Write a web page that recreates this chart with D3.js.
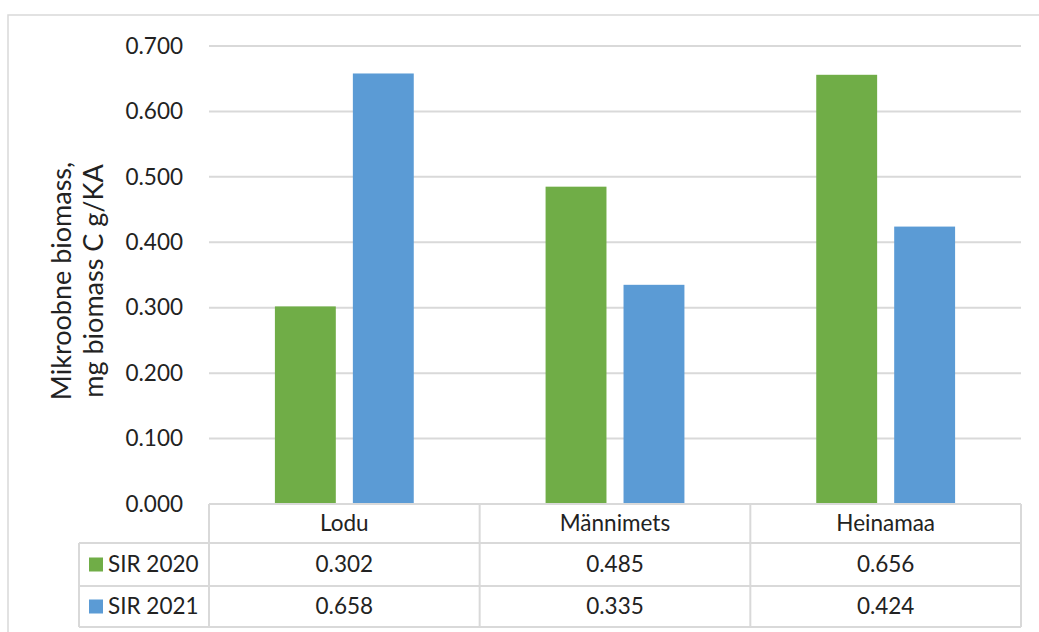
<!DOCTYPE html>
<html><head><meta charset="utf-8">
<script src="https://cdn.jsdelivr.net/npm/d3@7"></script>
<style>body{margin:0;background:#fff}svg{display:block}</style>
</head><body>
<script>
const categories = ["Lodu", "Männimets", "Heinamaa"];
const seriesNames = ["SIR 2020", "SIR 2021"];
const sir2020 = [0.302, 0.485, 0.656];
const sir2021 = [0.658, 0.335, 0.424];
const yTicks = [0, 0.1, 0.2, 0.3, 0.4, 0.5, 0.6, 0.7];
const colors = ["#70AD47", "#5B9BD5"];
const yTitle = ["Mikroobne biomass,", "mg biomass C g/KA"];

const W = 1039, H = 632;
const font = "Lato, 'Open Sans', sans-serif";
const textColor = "#222";
const lineColor = "#D9D9D9";
const fs = 22.5;

const svg = d3.select("body").append("svg").attr("width", W).attr("height", H);
// outer chart border
svg.append("rect").attr("x", 8).attr("y", 15).attr("width", 1100).attr("height", 700)
  .attr("fill", "#fff").attr("stroke", lineColor).attr("stroke-width", 1.5);

const plotL = 209, plotR = 1021, plotT = 46, plotB = 504;
const x = d3.scaleBand().domain(categories).range([plotL, plotR]);
const y = d3.scaleLinear().domain([0, 0.7]).range([plotB, plotT]);

// gridlines
svg.append("g").selectAll("line").data(yTicks.slice(1)).join("line")
  .attr("x1", plotL).attr("x2", plotR)
  .attr("y1", d => y(d)).attr("y2", d => y(d))
  .attr("stroke", lineColor).attr("stroke-width", 2);

// y axis labels
const yAxis = d3.axisLeft(y).tickValues(yTicks).tickFormat(d3.format(".3f")).tickSize(0).tickPadding(0);
const gy = svg.append("g").attr("transform", `translate(${plotL - 26},0)`).call(yAxis);
gy.select(".domain").remove();
gy.selectAll("text").attr("font-family", font).attr("font-size", fs).attr("fill", textColor);

// bars
const bw = x.bandwidth() * 0.225, gap = bw * 0.28;
const series = [sir2020, sir2021];
series.forEach((vals, si) => {
  svg.append("g").selectAll("rect").data(vals).join("rect")
    .attr("x", (d, i) => x(categories[i]) + x.bandwidth() / 2 + (si === 0 ? -gap / 2 - bw : gap / 2))
    .attr("width", bw)
    .attr("y", d => y(d))
    .attr("height", d => y(0) - y(d))
    .attr("fill", colors[si]);
});

// y title
const tg = svg.append("g").attr("transform", "translate(0,281) rotate(-90)");
tg.selectAll("text").data(yTitle).join("text")
  .attr("x", 0).attr("y", (d, i) => 71 + i * 32)
  .attr("text-anchor", "middle").attr("font-family", font).attr("font-size", 27)
  .attr("fill", textColor).text(d => d);

// data table
const rowY = [504, 543, 586, 627];
const legL = 79;
const tbl = svg.append("g");
tbl.append("line").attr("x1", plotL).attr("x2", plotR).attr("y1", rowY[0]).attr("y2", rowY[0]);
rowY.slice(1).forEach(v => tbl.append("line").attr("x1", legL).attr("x2", plotR).attr("y1", v).attr("y2", v));
const vx = categories.map(c => x(c)).concat([plotR]);
vx.forEach(v => tbl.append("line").attr("x1", v).attr("x2", v).attr("y1", rowY[0]).attr("y2", rowY[3]));
tbl.append("line").attr("x1", legL).attr("x2", legL).attr("y1", rowY[1]).attr("y2", rowY[3]);
tbl.selectAll("line").attr("stroke", lineColor).attr("stroke-width", 2);

// header
svg.append("g").selectAll("text").data(categories).join("text")
  .attr("x", d => x(d) + x.bandwidth() / 2).attr("y", (rowY[0] + rowY[1]) / 2)
  .attr("dy", "0.35em").attr("text-anchor", "middle")
  .attr("font-family", font).attr("font-size", fs).attr("fill", textColor).text(d => d);

series.forEach((vals, si) => {
  const cy = (rowY[si + 1] + rowY[si + 2]) / 2;
  svg.append("g").selectAll("text").data(vals).join("text")
    .attr("x", (d, i) => x(categories[i]) + x.bandwidth() / 2).attr("y", cy)
    .attr("dy", "0.35em").attr("text-anchor", "middle")
    .attr("font-family", font).attr("font-size", fs).attr("fill", textColor)
    .text(d => d3.format(".3f")(d));
  svg.append("rect").attr("x", 89).attr("y", cy - 7).attr("width", 14).attr("height", 14).attr("fill", colors[si]);
  svg.append("text").attr("x", 108).attr("y", cy).attr("dy", "0.35em")
    .attr("font-family", font).attr("font-size", fs).attr("fill", textColor).text(seriesNames[si]);
});
</script>
</body></html>
